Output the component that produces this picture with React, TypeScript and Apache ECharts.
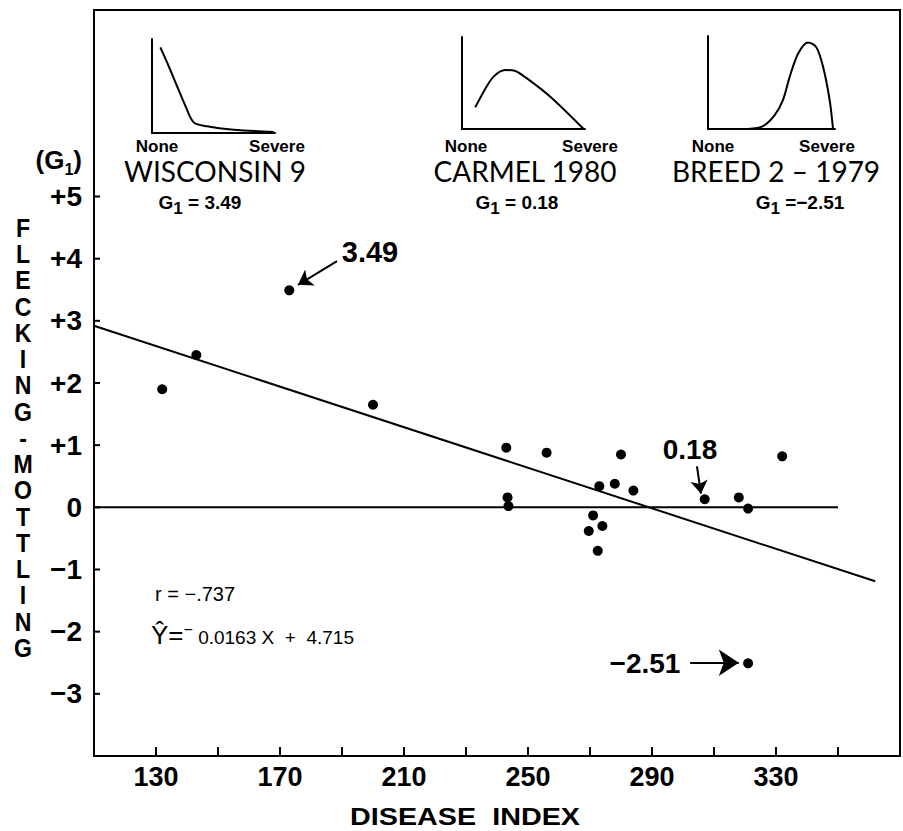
import React, { useEffect, useRef } from "react";
import * as echarts from "echarts";

// ---- data ----
const diseaseIndex = [132, 143, 173, 200, 243, 256, 280, 332, 273, 278, 284, 307, 318, 321, 243.4, 243.7, 271, 274, 269.6, 272.5, 321];
const flecking = [1.9, 2.45, 3.49, 1.65, 0.96, 0.88, 0.85, 0.82, 0.34, 0.38, 0.27, 0.13, 0.16, -0.02, 0.16, 0.02, -0.13, -0.3, -0.38, -0.7, -2.51];

const regX = [110, 362];
const regY = [2.92, -1.19];
const zeroX = [110, 350];
const zeroY = [0, 0];

const xLabelValues = [130, 170, 210, 250, 290, 330];
const yLabelValues = [-3, -2, -1, 0, 1, 2, 3, 4, 5];

// annotation arrows (data coords): [fromX, fromY, toX, toY]
const arrow349 = [188.4, 3.96, 175.8, 3.58];
const arrow018 = [304.5, 0.66, 305.8, 0.22];
const arrow251 = [302.3, -2.5, 318.0, -2.5];

// inset distribution sketches (fractions of the inset box)
const insetWisconsin = [[0.068, 0.91], [0.136, 0.71], [0.203, 0.5], [0.271, 0.29], [0.339, 0.113], [0.447, 0.071], [0.664, 0.035], [0.989, 0.011]];
const insetCarmel = [[0.108, 0.236], [0.176, 0.406], [0.257, 0.569], [0.352, 0.641], [0.434, 0.63], [0.528, 0.55], [0.718, 0.351], [0.989, 0]];
const insetBreed = [[0.315, 0], [0.433, 0.032], [0.525, 0.15], [0.59, 0.31], [0.643, 0.56], [0.709, 0.81], [0.787, 0.93], [0.853, 0.88], [0.906, 0.67], [0.958, 0.31], [0.984, 0.007]];

const insetNames = ["WISCONSIN 9", "CARMEL 1980", "BREED 2 \u2013 1979"];
const insetG1 = ["3.49", "0.18", "\u22122.51"];
const yTitle = "FLECKING-MOTTLING";

const BOLD = '"Liberation Sans", Arial, Helvetica, sans-serif';
const THIN = 'Lato, "DejaVu Sans", sans-serif';

export default function App() {
  const ref = useRef<HTMLDivElement>(null);
  useEffect(() => {
    if (!ref.current) return;
    const chart = echarts.init(ref.current, null, { renderer: "svg" });

    const insetBoxes = [
      { left: 152, top: 39, width: 123, height: 94 },
      { left: 462, top: 37, width: 123, height: 92 },
      { left: 708, top: 36, width: 127, height: 93 },
    ];
    const insetData = [insetWisconsin, insetCarmel, insetBreed];

    const grids: any[] = [
      { left: 94, top: 10, width: 806, height: 746, show: true, borderColor: "#000", borderWidth: 2, backgroundColor: "transparent" },
      ...insetBoxes.map((b) => ({ ...b, show: false })),
    ];
    const insetAxisBase = {
      type: "value", min: 0, max: 1,
      axisLine: { show: true, onZero: false, lineStyle: { color: "#000", width: 2 } },
      axisTick: { show: false }, axisLabel: { show: false }, splitLine: { show: false },
    };
    const xAxes: any[] = [
      {
        type: "value", min: 110, max: 370, interval: 20, gridIndex: 0,
        axisLine: { show: true, onZero: false, lineStyle: { color: "#000", width: 2 } },
        axisTick: { show: true, inside: true, length: 9, lineStyle: { color: "#000", width: 2 } },
        splitLine: { show: false },
        axisLabel: {
          color: "#000", fontFamily: BOLD, fontWeight: "bold", fontSize: 27, margin: 7,
          formatter: (v: number) => (xLabelValues.includes(v) ? String(v) : ""),
        },
      },
      ...insetBoxes.map((_, i) => ({ ...insetAxisBase, gridIndex: i + 1 })),
    ];
    const yAxes: any[] = [
      {
        type: "value", min: -4, max: 8, interval: 1, gridIndex: 0,
        axisLine: { show: true, onZero: false, lineStyle: { color: "#000", width: 2 } },
        axisTick: { show: false },
        splitLine: { show: false },
        axisLabel: {
          color: "#000", fontFamily: BOLD, fontWeight: "bold", fontSize: 28, margin: 12,
          formatter: (v: number) =>
            yLabelValues.includes(v) ? (v > 0 ? "+" + v : v < 0 ? "\u2212" + -v : "0") : "",
        },
      },
      ...insetBoxes.map((_, i) => ({ ...insetAxisBase, gridIndex: i + 1 })),
    ];

    const arrowSeries = (a: number[], size: any) => ({
      type: "lines", coordinateSystem: "cartesian2d", xAxisIndex: 0, yAxisIndex: 0,
      symbol: ["none", "arrow"], symbolSize: size, silent: true,
      lineStyle: { color: "#000", width: 2, opacity: 1 },
      data: [{ coords: [[a[0], a[1]], [a[2], a[3]]] }],
    });

    const series: any[] = [
      {
        type: "custom", xAxisIndex: 0, yAxisIndex: 0, silent: true,
        data: yLabelValues.map((v) => [110, v]),
        renderItem: (params: any, api: any) => {
          const p = api.coord([api.value(0), api.value(1)]);
          return { type: "line", shape: { x1: p[0], y1: p[1], x2: p[0] + 6, y2: p[1] }, style: { stroke: "#000", lineWidth: 2 } };
        },
      },
      {
        type: "line", xAxisIndex: 0, yAxisIndex: 0, symbol: "none", silent: true,
        lineStyle: { color: "#000", width: 2 },
        data: zeroX.map((x, i) => [x, zeroY[i]]),
      },
      {
        type: "line", xAxisIndex: 0, yAxisIndex: 0, symbol: "none", silent: true,
        lineStyle: { color: "#000", width: 2 },
        data: regX.map((x, i) => [x, regY[i]]),
      },
      {
        type: "scatter", xAxisIndex: 0, yAxisIndex: 0, symbolSize: 10, silent: true,
        itemStyle: { color: "#000", opacity: 1 },
        data: diseaseIndex.map((x, i) => [x, flecking[i]]),
      },
      arrowSeries(arrow349, 14),
      arrowSeries(arrow018, 13),
      arrowSeries(arrow251, [12, 20]),
      ...insetData.map((d, i) => ({
        type: "line", xAxisIndex: i + 1, yAxisIndex: i + 1, symbol: "none", smooth: 0.3, silent: true,
        lineStyle: { color: "#000", width: 2 }, data: d,
      })),
    ];

    const g1Rich = {
      g: { fontFamily: BOLD, fontWeight: "bold", fontSize: 19, fill: "#000", verticalAlign: "bottom", padding: [0, 0, 5, 0] },
      s: { fontFamily: BOLD, fontWeight: "bold", fontSize: 17, fill: "#000", verticalAlign: "bottom" },
    };
    const insetText: any[] = [];
    const noneX = [157, 466, 713];
    const sevX = [277, 590, 827];
    const nameX = [215, 525, 776];
    const gX = [200, 517, 800];
    for (let i = 0; i < 3; i++) {
      insetText.push(
        { type: "text", x: noneX[i], y: 146, style: { text: "None", fontFamily: BOLD, fontWeight: "bold", fontSize: 17, fill: "#000", align: "center", verticalAlign: "middle" } },
        { type: "text", x: sevX[i], y: 146, style: { text: "Severe", fontFamily: BOLD, fontWeight: "bold", fontSize: 17, fill: "#000", align: "center", verticalAlign: "middle" } },
        { type: "text", x: nameX[i], y: 171, style: { text: insetNames[i], fontFamily: THIN, fontWeight: 400, fontSize: 28, fill: "#000", align: "center", verticalAlign: "middle" } },
        { type: "text", x: gX[i], y: 205, style: { text: "{g|G}{s|1}{g|" + (i === 2 ? " =" : " = ") + insetG1[i] + "}", rich: g1Rich, align: "center", verticalAlign: "middle" } }
      );
    }

    const titleLetters = yTitle.split("").map((ch, i) => ({
      type: "text", x: 23, y: 228 + i * 26.25, scaleY: 1.2, scaleX: 1.1,
      style: { text: ch, fontFamily: BOLD, fontWeight: "bold", fontSize: 21, fill: "#000", align: "center", verticalAlign: "middle" },
    }));

    const graphic: any[] = [
      ...insetText,
      ...titleLetters,
      {
        type: "text", x: 82, y: 162,
        style: {
          text: "{p|(G}{s|1}{p|)}", align: "right", verticalAlign: "middle",
          rich: {
            p: { fontFamily: BOLD, fontWeight: "bold", fontSize: 26, fill: "#000", verticalAlign: "bottom", padding: [0, 0, 4, 0] },
            s: { fontFamily: BOLD, fontWeight: "bold", fontSize: 16, fill: "#000", verticalAlign: "bottom" },
          },
        },
      },
      {
        type: "text", x: 465, y: 817, scaleX: 1.25, scaleY: 1.08,
        style: { text: "DISEASE  INDEX", fontFamily: BOLD, fontWeight: "bold", fontSize: 23, fill: "#000", align: "center", verticalAlign: "middle" },
      },
      { type: "text", x: 370, y: 252, style: { text: "3.49", fontFamily: BOLD, fontWeight: "bold", fontSize: 29, fill: "#000", align: "center", verticalAlign: "middle" } },
      { type: "text", x: 690, y: 449, style: { text: "0.18", fontFamily: BOLD, fontWeight: "bold", fontSize: 28, fill: "#000", align: "center", verticalAlign: "middle" } },
      { type: "text", x: 645, y: 663, style: { text: "\u22122.51", fontFamily: BOLD, fontWeight: "bold", fontSize: 28, fill: "#000", align: "center", verticalAlign: "middle" } },
      { type: "text", x: 155, y: 594, style: { text: "r = \u2212.737", fontFamily: BOLD, fontSize: 20, fill: "#000", align: "left", verticalAlign: "middle" } },
      {
        type: "text", x: 151, y: 648,
        style: {
          text: "{a|\u0176=}{m|\u2212}{b| 0.0163 X  +  4.715}", align: "left", verticalAlign: "bottom",
          rich: {
            a: { fontFamily: BOLD, fontSize: 26, fill: "#000", verticalAlign: "bottom" },
            m: { fontFamily: BOLD, fontSize: 16, fill: "#000", verticalAlign: "bottom", padding: [0, 0, 11, 0] },
            b: { fontFamily: BOLD, fontSize: 19, fill: "#000", verticalAlign: "bottom", padding: [0, 0, 1, 0] },
          },
        },
      },
    ];

    chart.setOption({
      animation: false,
      backgroundColor: "#fff",
      grid: grids,
      xAxis: xAxes,
      yAxis: yAxes,
      series,
      graphic,
    });
    return () => chart.dispose();
  }, []);
  return <div ref={ref} style={{ position: "fixed", left: 0, top: 0, width: 903, height: 831 }} />;
}
